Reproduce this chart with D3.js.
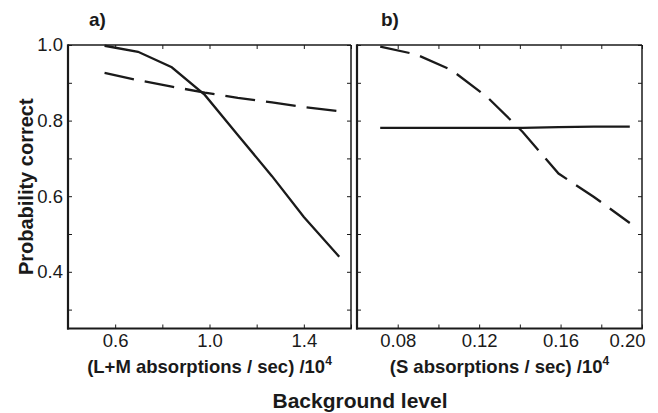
<!DOCTYPE html>
<html>
<head>
<meta charset="utf-8">
<script src="https://cdn.jsdelivr.net/npm/d3@7"></script>
<style>
  body { margin: 0; background: #fff; }
  svg { display: block; font-family: "Liberation Sans", Arial, sans-serif; }
</style>
</head>
<body>
<div id="chart"></div>
<script>
// panel a: L+M background
const lmLevels = [0.555, 0.697, 0.84, 0.98, 1.12, 1.265, 1.40, 1.55];
const lmSolid  = [0.998, 0.982, 0.941, 0.868, 0.762, 0.653, 0.545, 0.44];
const lmDashed = [0.926, 0.907, 0.890, 0.874, 0.860, 0.848, 0.836, 0.825];

// panel b: S background
const sLevels = [0.0714, 0.089, 0.1064, 0.124, 0.1414, 0.159, 0.1764, 0.194];
const sSolid  = [0.781, 0.781, 0.781, 0.781, 0.781, 0.783, 0.784, 0.784];
const sDashed = [0.996, 0.975, 0.934, 0.862, 0.770, 0.660, 0.598, 0.529];

// ticks
const yTicks = [0.3, 0.4, 0.5, 0.6, 0.7, 0.8, 0.9, 1.0];
const yLabels = [0.4, 0.6, 0.8, 1.0];
const lmTicks = [0.4, 0.6, 0.8, 1.0, 1.2, 1.4, 1.6];
const lmLabels = [0.6, 1.0, 1.4];
const sTicks = [0.06, 0.08, 0.10, 0.12, 0.14, 0.16, 0.18, 0.20];
const sLabels = [0.08, 0.12, 0.16, 0.20];

const width = 658, height = 413;
const plotTop = 45, plotBottom = 328.5;
const ink = "#1a1a1a";
const tickFont = 18.5;

const svg = d3.select("#chart").append("svg")
    .attr("width", width)
    .attr("height", height);

const y = d3.scaleLinear().domain([0.25, 1.0]).range([plotBottom, plotTop]);

function drawPanel(opts) {
    const x = d3.scaleLinear().domain(opts.domain).range(opts.range);
    const g = svg.append("g");
    const [x0, x1] = opts.range;

    const fmt = (labels) => (d) => labels.some(v => Math.abs(v - d) < 1e-9) ? d.toFixed(opts.digits) : "";

    // bottom axis, ticks pointing in
    const xb = g.append("g")
        .attr("transform", `translate(0,${plotBottom})`)
        .call(d3.axisBottom(x).tickValues(opts.ticks).tickSize(-4).tickSizeOuter(0)
            .tickPadding(5).tickFormat(fmt(opts.labels)));
    xb.select(".domain").remove();
    xb.selectAll("text").attr("font-size", tickFont).attr("fill", ink)
        .attr("font-family", "Liberation Sans, Arial, sans-serif");
    if (opts.lastLabelEnd) {
        xb.selectAll(".tick:last-of-type text").attr("text-anchor", "end").attr("dx", 3);
    }

    const xt = g.append("g")
        .attr("transform", `translate(0,${plotTop})`)
        .call(d3.axisTop(x).tickValues(opts.ticks).tickSize(-4).tickSizeOuter(0).tickFormat(""));
    xt.select(".domain").remove();

    const yl = g.append("g")
        .attr("transform", `translate(${x0},0)`)
        .call(d3.axisLeft(y).tickValues(yTicks).tickSize(-4).tickSizeOuter(0)
            .tickPadding(5).tickFormat(opts.yLabels ? fmt(yLabels) : ""));
    yl.select(".domain").remove();
    yl.selectAll("text").attr("font-size", tickFont).attr("fill", ink)
        .attr("font-family", "Liberation Sans, Arial, sans-serif");

    const yr = g.append("g")
        .attr("transform", `translate(${x1},0)`)
        .call(d3.axisRight(y).tickValues(yTicks).tickSize(-4).tickSizeOuter(0).tickFormat(""));
    yr.select(".domain").remove();

    g.selectAll(".tick line").attr("stroke", ink).attr("stroke-width", 1);

    // frame: heavier left/bottom
    g.append("line").attr("x1", x0).attr("x2", x1).attr("y1", plotTop).attr("y2", plotTop)
        .attr("stroke", ink).attr("stroke-width", 1.5);
    g.append("line").attr("x1", x1).attr("x2", x1).attr("y1", plotTop).attr("y2", plotBottom)
        .attr("stroke", ink).attr("stroke-width", 1.5);
    g.append("line").attr("x1", x0).attr("x2", x0).attr("y1", plotTop - 0.75).attr("y2", plotBottom + 1)
        .attr("stroke", ink).attr("stroke-width", 2.2);
    g.append("line").attr("x1", x0 - 1).attr("x2", x1 + 0.75).attr("y1", plotBottom).attr("y2", plotBottom)
        .attr("stroke", ink).attr("stroke-width", 2.2);

    const line = d3.line()
        .x((d) => x(d[0]))
        .y((d) => y(d[1]));

    g.append("path")
        .datum(d3.zip(opts.levels, opts.solid))
        .attr("d", line)
        .attr("fill", "none")
        .attr("stroke", ink)
        .attr("stroke-width", 2.3);

    g.append("path")
        .datum(d3.zip(opts.levels, opts.dashed))
        .attr("d", line)
        .attr("fill", "none")
        .attr("stroke", ink)
        .attr("stroke-width", 2.3)
        .attr("stroke-dasharray", "30,11");

    // panel letter
    g.append("text")
        .attr("x", x0 + opts.letterDx)
        .attr("y", 26)
        .attr("font-size", 19)
        .attr("font-weight", "bold")
        .attr("fill", ink)
        .text(opts.letter);

    // axis subtitle with superscript
    const sub = g.append("text")
        .attr("x", (x0 + x1) / 2)
        .attr("y", 372.5)
        .attr("text-anchor", "middle")
        .attr("font-size", 18.5)
        .attr("font-weight", "bold")
        .attr("fill", ink);
    sub.append("tspan").text(opts.unit);
    sub.append("tspan").attr("dy", -8).attr("font-size", 12).text("4");
}

drawPanel({
    domain: [0.4, 1.6], range: [68, 351],
    ticks: lmTicks, labels: lmLabels, digits: 1,
    levels: lmLevels, solid: lmSolid, dashed: lmDashed,
    yLabels: true, letter: "a)", letterDx: 21,
    unit: "(L+M absorptions / sec) /10"
});

drawPanel({
    domain: [0.06, 0.20], range: [357, 642],
    ticks: sTicks, labels: sLabels, digits: 2,
    levels: sLevels, solid: sSolid, dashed: sDashed,
    yLabels: false, letter: "b)", letterDx: 24, lastLabelEnd: true,
    unit: "(S absorptions / sec) /10"
});

svg.append("text")
    .attr("transform", `translate(33,${(plotTop + plotBottom) / 2}) rotate(-90)`)
    .attr("text-anchor", "middle")
    .attr("font-size", 20)
    .attr("font-weight", "bold")
    .attr("fill", ink)
    .text("Probability correct");

svg.append("text")
    .attr("x", 360)
    .attr("y", 408)
    .attr("text-anchor", "middle")
    .attr("font-size", 21)
    .attr("font-weight", "bold")
    .attr("fill", ink)
    .text("Background level");
</script>
</body>
</html>
